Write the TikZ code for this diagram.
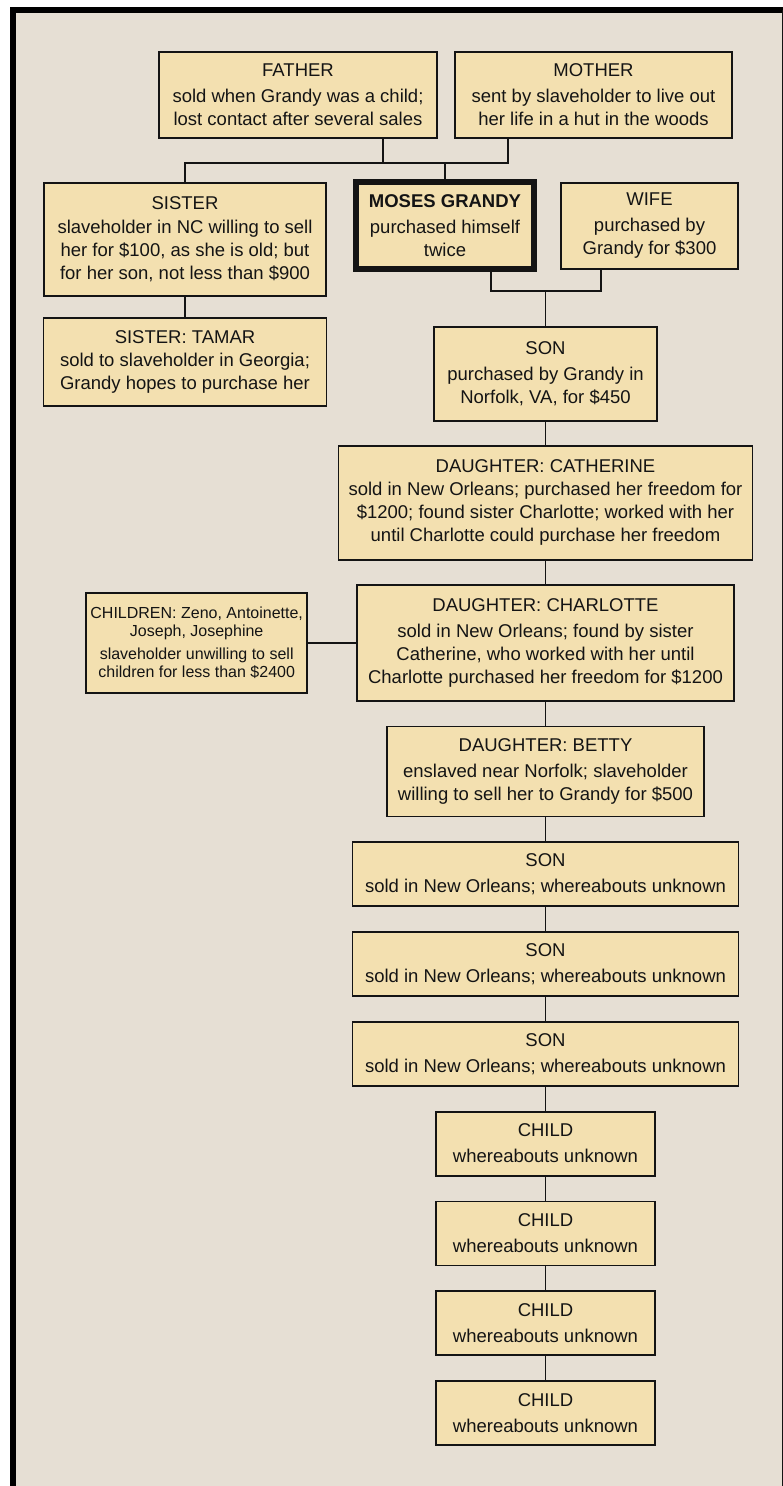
\documentclass[tikz,border=0pt]{standalone}
\usepackage{fontspec}
\setmainfont{Liberation Sans}
\usetikzlibrary{positioning,calc}
\definecolor{panel}{HTML}{E6DFD4}
\definecolor{boxfill}{HTML}{F3E0B0}
\definecolor{ink}{HTML}{141414}

\begin{document}
\begin{tikzpicture}[x=1pt,y=-1pt,
        box/.style = {
            draw=ink,
            fill=boxfill,
            line width=1.8pt,
            align=center,
            text=ink,
            inner sep=4pt,
            font=\fontsize{18.5}{23}\selectfont
        },
        link/.style = {draw=ink, line width=1.8pt},
        node distance=24pt]

        \useasboundingbox (0,0) rectangle (783,1486);
        \fill[panel] (13,9.7) rectangle (782.5,1486);
        \draw[line width=6pt] (13,1486) -- (13,9.7) -- (783,9.7);
        \draw[line width=1pt, ink] (782.5,9.7) -- (782.5,1486);

        \node[box, minimum width=278pt, minimum height=86pt] (father) at (298,95) {FATHER\\[3pt]sold when Grandy was a child;\\lost contact after several sales};
        \node[box, minimum width=277pt, minimum height=86pt] (mother) at (593.5,95) {MOTHER\\[3pt]sent by slaveholder to live out\\her life in a hut in the woods};
        \node[box, minimum width=282pt, minimum height=113pt] (sister) at (185,239.5) {SISTER\\[1pt]slaveholder in NC willing to sell\\her for \$100, as she is old; but\\for her son, not less than \$900};
        \node[box, line width=6pt, minimum width=178pt, minimum height=87pt] (moses) at (445,225.5) {\textbf{MOSES GRANDY}\\[3pt]purchased himself\\twice};
        \node[box, minimum width=177pt, minimum height=86pt] (wife) at (649.5,226) {WIFE\\[3pt]purchased by\\Grandy for \$300};
        \node[box, below=20pt of sister, minimum width=283pt, minimum height=88pt] (tamar) {SISTER: TAMAR\\sold to slaveholder in Georgia;\\Grandy hopes to purchase her};

        \node[box, minimum width=223pt, minimum height=94pt] (son1) at (545.5,374) {SON\\[3pt]purchased by Grandy in\\Norfolk, VA, for \$450};
        \node[box, below=23pt of son1, minimum width=414pt, minimum height=114pt] (cath) {DAUGHTER: CATHERINE\\sold in New Orleans; purchased her freedom for\\\$1200; found sister Charlotte; worked with her\\until Charlotte could purchase her freedom};
        \node[box, below=23pt of cath, minimum width=377pt, minimum height=116pt] (charl) {DAUGHTER: CHARLOTTE\\[3pt]sold in New Orleans; found by sister\\Catherine, who worked with her until\\Charlotte purchased her freedom for \$1200};
        \node[box, left=48pt of charl, minimum width=221pt, minimum height=100pt, font=\fontsize{16}{18.5}\selectfont] (children) {CHILDREN: Zeno, Antoinette,\\Joseph, Josephine\\[4pt]slaveholder unwilling to sell\\children for less than \$2400};
        \node[box, below=of charl, minimum width=317pt, minimum height=90pt] (betty) {DAUGHTER: BETTY\\[3pt]enslaved near Norfolk; slaveholder\\willing to sell her to Grandy for \$500};
        \node[box, below=of betty, minimum width=386pt, minimum height=64pt] (son2) {SON\\[3pt]sold in New Orleans; whereabouts unknown};
        \node[box, below=of son2, minimum width=386pt, minimum height=64pt] (son3) {SON\\[3pt]sold in New Orleans; whereabouts unknown};
        \node[box, below=of son3, minimum width=386pt, minimum height=64pt] (son4) {SON\\[3pt]sold in New Orleans; whereabouts unknown};
        \node[box, below=of son4, minimum width=219pt, minimum height=64pt] (child1) {CHILD\\[3pt]whereabouts unknown};
        \node[box, below=of child1, minimum width=219pt, minimum height=64pt] (child2) {CHILD\\[3pt]whereabouts unknown};
        \node[box, below=of child2, minimum width=219pt, minimum height=64pt] (child3) {CHILD\\[3pt]whereabouts unknown};
        \node[box, below=of child3, minimum width=219pt, minimum height=64pt] (child4) {CHILD\\[3pt]whereabouts unknown};

        \coordinate (pbar) at ([yshift=16pt]moses.north);
        \coordinate (fdrop) at ([xshift=-55pt]father.south east);
        \coordinate (mdrop) at ([xshift=54pt]mother.south west);
        \coordinate (mbar) at ([yshift=35pt]son1.north);
        \coordinate (hdrop) at ([xshift=46pt]moses.south);
        \coordinate (wdrop) at ([xshift=-48.5pt]wife.south);

        \draw[link] (fdrop) -- (fdrop |- pbar);
        \draw[link] (sister.north) |- (mdrop |- pbar) -- (mdrop);
        \draw[link] (pbar) -- (moses.north);
        \draw[link] (hdrop) |- (wdrop |- mbar) -- (wdrop);
        \draw[link] (mbar) -- (son1.north);
        \draw[link] (sister) -- (tamar);
        \draw[link] (son1) -- (cath);
        \draw[link] (cath) -- (charl);
        \draw[link] (children) -- (charl);
        \draw[link] (charl) -- (betty);
        \draw[link] (betty) -- (son2);
        \draw[link] (son2) -- (son3);
        \draw[link] (son3) -- (son4);
        \draw[link] (son4) -- (child1);
        \draw[link] (child1) -- (child2);
        \draw[link] (child2) -- (child3);
        \draw[link] (child3) -- (child4);
    \end{tikzpicture}
\end{document}
